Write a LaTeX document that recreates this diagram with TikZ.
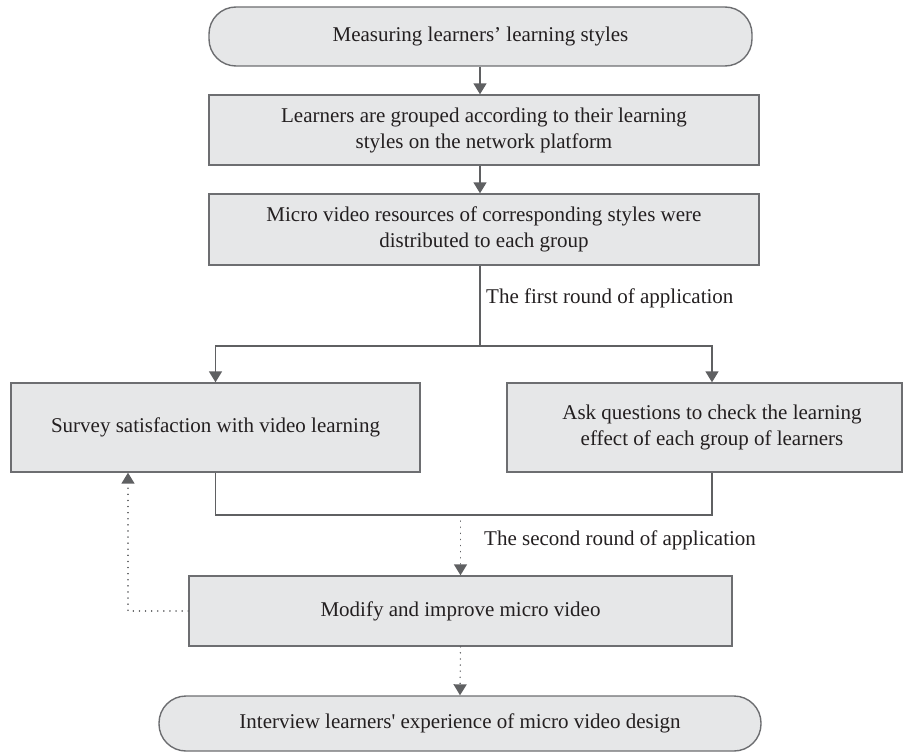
\documentclass[tikz,border=0pt]{standalone}
\usepackage{fontspec}
\setmainfont{Liberation Serif}[Ligatures=TeXOff]
\usetikzlibrary{arrows.meta}
\definecolor{boxfill}{HTML}{E6E7E8}
\definecolor{boxline}{HTML}{6D6E71}
\definecolor{txt}{HTML}{231F20}
\definecolor{conn}{HTML}{5F6062}
\begin{document}
\begin{tikzpicture}[x=1pt,y=-1pt,
  every node/.style={font=\fontsize{21}{26}\selectfont, text=txt},
  box/.style={draw=boxline, fill=boxfill, line width=1.4pt, inner sep=0pt, align=center},
  term/.style={box, rounded corners=27pt},
  conn/.style={draw=conn, line width=1.6pt},
  arr/.style={conn, -{Triangle[width=13pt,length=11pt]}},
  dotarr/.style={draw=conn, line width=1.5pt, dash pattern=on 0.1pt off 6pt, line cap=round, -{Triangle[width=13pt,length=11pt]}},
  lab/.style={anchor=west, inner sep=0pt}]
\useasboundingbox (0,0) rectangle (903,752);
\node[term, minimum width=543pt, minimum height=59pt] (t1) at (480.5,36.5) {Measuring learners’ learning styles};
\node[box, minimum width=550pt, minimum height=70pt] (b2) at (484,130) {Learners are grouped according to their learning\\styles on the network platform};
\node[box, minimum width=550pt, minimum height=71pt] (b3) at (484,229.5) {Micro video resources of corresponding styles were\\distributed to each group};
\node[box, minimum width=409pt, minimum height=89pt] (sv) at (215.5,427.5) {Survey satisfaction with video learning};
\node[box, minimum width=395pt, minimum height=89pt] (aq) at (704.5,427.5) {\hspace*{15pt}Ask questions to check the learning\\\hspace*{15pt}effect of each group of learners};
\node[box, minimum width=543pt, minimum height=70pt] (md) at (460.5,611) {Modify and improve micro video};
\node[term, minimum width=602pt, minimum height=55pt] (t2) at (460,723.5) {Interview learners' experience of micro video design};
\coordinate (sp) at (480,346);
\coordinate (jn) at (460.5,515);
\draw[arr] (t1.south -| sp) -- (b2.north -| sp);
\draw[arr] (b2.south -| sp) -- (b3.north -| sp);
\draw[conn] (b3.south -| sp) -- (sp);
\draw[arr] (sp) -| (sv.north);
\draw[arr] (sp) -| ([xshift=7.5pt]aq.north);
\draw[conn] (sv.south) |- (jn) -| ([xshift=7.5pt]aq.south);
\draw[dotarr] (jn) -- (md.north);
\draw[dotarr] (md.west) -| ([xshift=-87.5pt]sv.south);
\draw[dotarr] (md.south) -- (t2.north);
\node[lab] (l1) at (486,298) {The first round of application};
\node[lab] (l2) at (484,540) {The second round of application};
\end{tikzpicture}
\end{document}
